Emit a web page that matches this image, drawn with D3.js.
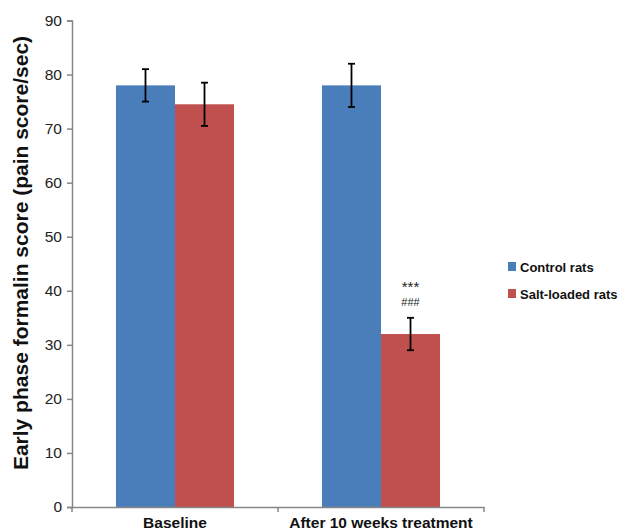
<!DOCTYPE html>
<html>
  <head>
    <meta charset="utf-8">
    <script src="https://d3js.org/d3.v7.min.js"></script>
    <style>
      body { margin: 0; background: white; }
      text { font-family: "Liberation Sans", Arial, sans-serif; }
      .axis path, .axis line { stroke: #868686; stroke-width: 1.5px; }
      .axis text { font-size: 15.5px; fill: #222; }
    </style>
  </head>
  <body>
    <div id="chart"></div>
<script>

var groups = ["Baseline", "After 10 weeks treatment"];
var seriesNames = ["Control rats", "Salt-loaded rats"];
var seriesColors = ["#4a7ebb", "#c0504d"];
var controlValues = [78, 78];
var controlErrors = [3, 4];
var saltValues = [74.5, 32];
var saltErrors = [4, 3];
var yTicks = [0, 10, 20, 30, 40, 50, 60, 70, 80, 90];
var marks = [{ group: "After 10 weeks treatment", series: 1, lines: ["***", "###"] }];

var width = 620, height = 531;
var margin = { left: 72, right: 136, top: 20.5, bottom: 24 };

var svg = d3.select('#chart').append('svg')
  .attr('width', width)
  .attr('height', height);

var x0 = d3.scaleBand()
  .domain(groups)
  .range([margin.left, width - margin.right])
  .paddingInner(0.427)
  .paddingOuter(0.2135);

var x1 = d3.scaleBand()
  .domain([0, 1])
  .range([0, x0.bandwidth()]);

var y = d3.scaleLinear()
  .domain([0, 90])
  .range([height - margin.bottom, margin.top]);

var rows = [];
groups.forEach(function (g, i) {
  rows.push({ group: g, series: 0, value: controlValues[i], err: controlErrors[i] });
  rows.push({ group: g, series: 1, value: saltValues[i], err: saltErrors[i] });
});

svg.selectAll('rect.bar')
  .data(rows).enter()
  .append('rect')
  .attr('class', 'bar')
  .attr('x', function (d) { return x0(d.group) + x1(d.series); })
  .attr('y', function (d) { return y(d.value); })
  .attr('width', x1.bandwidth())
  .attr('height', function (d) { return y(0) - y(d.value); })
  .attr('fill', function (d) { return seriesColors[d.series]; });

// error bars
var eb = svg.selectAll('g.err')
  .data(rows).enter()
  .append('g')
  .attr('class', 'err')
  .attr('transform', function (d) {
    return 'translate(' + (x0(d.group) + x1(d.series) + x1.bandwidth() / 2) + ',0)';
  });
eb.append('line')
  .attr('y1', function (d) { return y(d.value + d.err); })
  .attr('y2', function (d) { return y(d.value - d.err); })
  .attr('stroke', '#000').attr('stroke-width', 1.8);
eb.append('line')
  .attr('x1', -3.5).attr('x2', 3.5)
  .attr('y1', function (d) { return y(d.value + d.err); })
  .attr('y2', function (d) { return y(d.value + d.err); })
  .attr('stroke', '#000').attr('stroke-width', 1.8);
eb.append('line')
  .attr('x1', -3.5).attr('x2', 3.5)
  .attr('y1', function (d) { return y(d.value - d.err); })
  .attr('y2', function (d) { return y(d.value - d.err); })
  .attr('stroke', '#000').attr('stroke-width', 1.8);

// significance marks
var markSizes = [15, 11];
var markOffsets = [26, 12];
marks.forEach(function (m) {
  var i = groups.indexOf(m.group);
  var v = m.series === 1 ? saltValues[i] + saltErrors[i] : controlValues[i] + controlErrors[i];
  var cx = x0(m.group) + x1(m.series) + x1.bandwidth() / 2;
  svg.selectAll(null)
    .data(m.lines).enter()
    .append('text')
    .attr('x', cx)
    .attr('y', function (d, k) { return y(v) - markOffsets[k]; })
    .attr('text-anchor', 'middle')
    .style('font-size', function (d, k) { return markSizes[k] + 'px'; })
    .attr('fill', '#222')
    .text(function (d) { return d; });
});

// axes
svg.append('g')
  .attr('class', 'axis')
  .attr('transform', 'translate(' + margin.left + ',0)')
  .call(d3.axisLeft(y).tickValues(yTicks).tickSize(5).tickPadding(5));

var xAxis = svg.append('g')
  .attr('class', 'axis')
  .attr('transform', 'translate(0,' + y(0) + ')')
  .call(d3.axisBottom(x0).tickSize(0).tickFormat(''));
xAxis.selectAll('.tick').remove();

var xTicks = [margin.left].concat(groups.map(function (g) { return x0(g) + x0.step() - x0.paddingInner() * x0.step() / 2; }));
xAxis.selectAll('line.sep')
  .data(xTicks).enter()
  .append('line')
  .attr('class', 'sep')
  .attr('x1', function (d) { return d; })
  .attr('x2', function (d) { return d; })
  .attr('y1', 0).attr('y2', 5);

svg.selectAll('text.xlab')
  .data(groups).enter()
  .append('text')
  .attr('class', 'xlab')
  .attr('x', function (d) { return x0(d) + x0.bandwidth() / 2; })
  .attr('y', y(0) + 21)
  .attr('text-anchor', 'middle')
  .style('font-size', '15.5px')
  .style('font-weight', 'bold')
  .attr('fill', '#111')
  .text(function (d) { return d; });

svg.append('text')
  .attr('transform', 'translate(28,' + 253 + ') rotate(-90)')
  .attr('text-anchor', 'middle')
  .style('font-size', '21px')
  .style('font-weight', 'bold')
  .attr('fill', '#111')
  .text('Early phase formalin score (pain score/sec)');

// legend
var legend = svg.selectAll('g.legend')
  .data(seriesNames).enter()
  .append('g')
  .attr('class', 'legend')
  .attr('transform', function (d, i) { return 'translate(508,' + (262 + i * 27) + ')'; });
legend.append('rect')
  .attr('width', 8).attr('height', 9)
  .attr('fill', function (d, i) { return seriesColors[i]; });
legend.append('text')
  .attr('x', 12).attr('y', 9.5)
  .style('font-size', '13px')
  .style('font-weight', 'bold')
  .attr('fill', '#111')
  .text(function (d) { return d; });

</script>
  </body>
</html>
